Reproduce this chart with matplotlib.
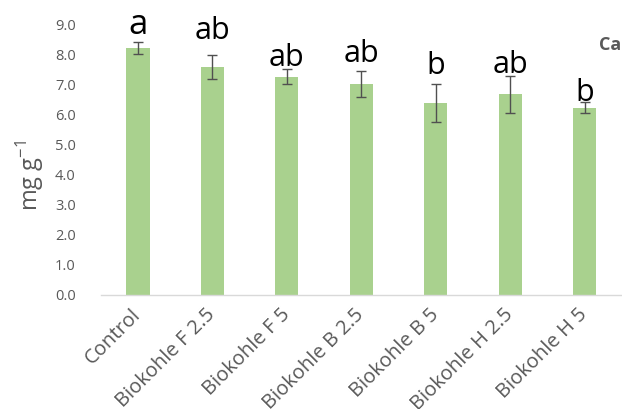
"""Ca content per treatment, bar chart with SE bars and significance letters."""

import matplotlib
matplotlib.use("Agg")
import matplotlib.pyplot as plt
import numpy as np

# Treatments and measured Ca (mg g-1)
treatments = ["Control", "Biokohle F 2.5", "Biokohle F 5", "Biokohle B 2.5",
              "Biokohle B 5", "Biokohle H 2.5", "Biokohle H 5"]
ca_mean = [8.22, 7.58, 7.25, 7.01, 6.38, 6.67, 6.22]
ca_err = [0.20, 0.39, 0.25, 0.42, 0.63, 0.61, 0.18]

# Tukey letters and the height of their baseline
letters = ["a", "ab", "ab", "ab", "b", "ab", "b"]
letter_y = [8.67, 8.50, 7.61, 7.73, 7.33, 7.37, 6.44]
letter_size = [25, 22, 22, 22, 22, 22, 22]

plt.rcParams["font.family"] = ["Open Sans", "DejaVu Sans"]
plt.rcParams["mathtext.fontset"] = "custom"
plt.rcParams["mathtext.rm"] = "Open Sans"
GREY = "#595959"

fig = plt.figure(figsize=(6.22, 4.09), dpi=100)
ax = fig.add_axes([0.162, 0.279, 0.838, 0.662])

x = np.arange(len(treatments))
ax.bar(x, ca_mean, width=0.31, color="#A9D18E", zorder=2)
ax.errorbar(x, ca_mean, yerr=ca_err, fmt="none", ecolor="#505050",
            elinewidth=1.0, capsize=3.5, capthick=1.0, zorder=3)

for xi, lab, ly, fs in zip(x, letters, letter_y, letter_size):
    ax.text(xi, ly, lab, ha="center", va="baseline", fontsize=fs, color="black", zorder=4)

ax.set_xlim(-0.5, len(treatments) - 0.5)
ax.set_ylim(0, 9)
ax.set_yticks(np.arange(0, 9.1, 1.0))
ax.set_yticklabels([f"{v:.1f}" for v in np.arange(0, 9.1, 1.0)])
ax.set_xticks(x)
ax.set_xticklabels(treatments, rotation=45, ha="right", va="center",
                   rotation_mode="anchor")

ax.tick_params(axis="both", length=0, colors=GREY)
ax.tick_params(axis="y", labelsize=10.5, pad=18)
ax.tick_params(axis="x", labelsize=14.5, pad=12)

for side in ["top", "right", "left"]:
    ax.spines[side].set_visible(False)
ax.spines["bottom"].set_color("#D9D9D9")
ax.spines["bottom"].set_linewidth(1.0)

ax.set_ylabel(r"mg g$^{\mathregular{-1}}$", fontsize=17, color=GREY)
ax.yaxis.set_label_coords(-0.105, 0.44)

ax.text(0.998, 0.922, "Ca", transform=ax.transAxes, ha="right", va="center",
        fontsize=13, fontweight="bold", color=GREY)

fig.savefig("out.png", dpi=100)
